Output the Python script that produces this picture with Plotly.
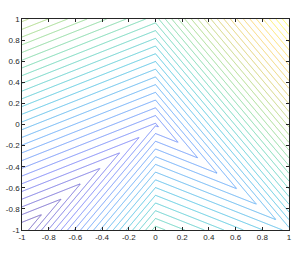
import numpy as np
import plotly.graph_objects as go

# Piecewise-planar surface:
# regions: A (x<0, y>=x), D (x>=0, y>=-x), B (x<0, y<x), C (x>=0, y<-x)
region_names = ["A", "D", "B", "C"]
x_coef = [-0.5, 1.5, 1.5, -0.5]
y_coef = [1.0, 1.0, -1.0, -1.0]

z_min, z_max = -0.5, 2.5
n_levels = 40

tick_vals = [-1, -0.8, -0.6, -0.4, -0.2, 0, 0.2, 0.4, 0.6, 0.8, 1]
tick_text = ["-1", "-0.8", "-0.6", "-0.4", "-0.2", "0", "0.2", "0.4", "0.6", "0.8", "1"]

parula = [
    [0.000, "#3e26a8"], [0.125, "#4852f4"], [0.250, "#2d87f7"],
    [0.375, "#12b1d6"], [0.500, "#37c897"], [0.625, "#80cc59"],
    [0.750, "#cfbc38"], [0.875, "#fcc435"], [1.000, "#f9fb14"],
]

g = np.linspace(-1, 1, 401)
X, Y = np.meshgrid(g, g)
masks = [
    (X < 0) & (Y >= X),
    (X >= 0) & (Y >= -X),
    (X < 0) & (Y < X),
    (X >= 0) & (Y < -X),
]
Z = np.select(masks, [a * X + b * Y for a, b in zip(x_coef, y_coef)])

step = (z_max - z_min) / (n_levels + 1)

fig = go.Figure(go.Contour(
    x=g, y=g, z=Z,
    zmin=z_min, zmax=z_max,
    colorscale=parula,
    autocontour=False,
    contours=dict(start=z_min + step, end=z_max - step + 1e-9, size=step,
                  coloring="lines"),
    line=dict(width=0.7, smoothing=0),
    showscale=False,
    hoverinfo="skip",
))

axis_common = dict(
    range=[-1, 1], tickvals=tick_vals, ticktext=tick_text,
    ticks="inside", ticklen=3, tickwidth=0.6, tickcolor="#262626",
    showline=True, linecolor="#262626", linewidth=0.6, mirror="ticks",
    showgrid=False, zeroline=False, automargin=False,
    tickfont=dict(family="Liberation Sans, Arial, sans-serif", size=8, color="#262626"),
)

fig.update_layout(
    width=299, height=259,
    margin=dict(l=22, r=10, t=19, b=29),
    paper_bgcolor="white", plot_bgcolor="white",
    xaxis=axis_common, yaxis=axis_common,
    showlegend=False,
)

fig.write_html("out.html", config={"displayModeBar": False},
               post_script="document.body.style.margin='0px';")
